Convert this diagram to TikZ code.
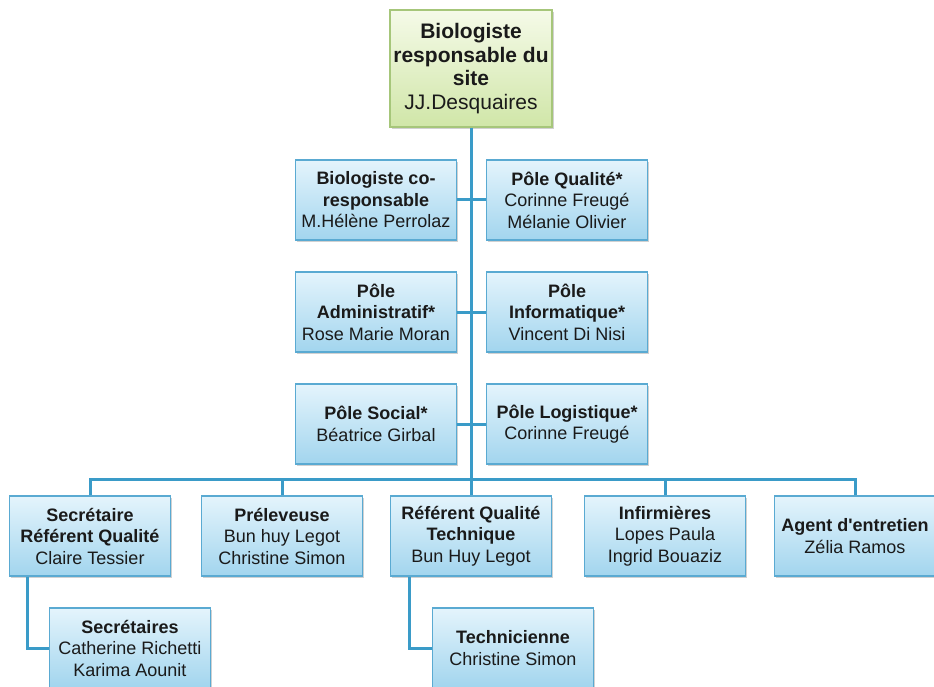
\documentclass[tikz,border=0pt]{standalone}
\usepackage{fontspec}
\setmainfont{Liberation Sans}
\usetikzlibrary{shadows}
\definecolor{lineblue}{HTML}{3A9BC8}
\definecolor{boxborder}{HTML}{5AAAD2}
\definecolor{boxtop}{HTML}{E4F4FC}
\definecolor{boxbot}{HTML}{A2D5EE}
\definecolor{gtop}{HTML}{F5FAE8}
\definecolor{gbot}{HTML}{D0E6A8}
\definecolor{gborder}{HTML}{A6C67A}
\definecolor{txt}{HTML}{1A1A1A}
\begin{document}
\begin{tikzpicture}[x=1pt,y=-1pt,
  unit/.style={draw=boxborder, line width=1.3pt, top color=boxtop, bottom color=boxbot,
    minimum width=161pt, minimum height=80pt, inner sep=0pt, align=center, text=txt,
    font=\fontsize{18}{21.5}\selectfont,
    drop shadow={shadow xshift=1.5pt,shadow yshift=-2pt,fill=black,opacity=0.18}},
  head/.style={unit, draw=gborder, top color=gtop, bottom color=gbot,
    minimum width=162pt, minimum height=117pt, font=\fontsize{21}{23.5}\selectfont},
  link/.style={draw=lineblue, line width=3pt}]
\useasboundingbox (0,0) rectangle (934,687);

\node[head] (bio) at (471,68.5) {\textbf{Biologiste}\\\textbf{responsable du}\\\textbf{site}\\JJ.Desquaires};

\node[unit] (cor) at (376,200) {\textbf{Biologiste co-}\\\textbf{responsable}\\M.Hélène Perrolaz};
\node[unit] (qual) at (567,200) {\textbf{Pôle Qualité*}\\Corinne Freugé\\Mélanie Olivier};
\node[unit] (adm) at (376,312) {\textbf{Pôle}\\\textbf{Administratif*}\\Rose Marie Moran};
\node[unit] (info) at (567,312) {\textbf{Pôle}\\\textbf{Informatique*}\\Vincent Di Nisi};
\node[unit] (soc) at (376,424) {\textbf{Pôle Social*}\\Béatrice Girbal};
\node[unit] (logi) at (567,424) {\textbf{Pôle Logistique*}\\Corinne Freugé};

\coordinate (bar) at (471,479);

\node[unit] (sec) at (90,536) {\textbf{Secrétaire}\\\textbf{Référent Qualité}\\Claire Tessier};
\node[unit] (pre) at (282,536) {\textbf{Préleveuse}\\Bun huy Legot\\Christine Simon};
\node[unit] (ref) at (471,536) {\textbf{Référent Qualité}\\\textbf{Technique}\\Bun Huy Legot};
\node[unit] (infi) at (665,536) {\textbf{Infirmières}\\Lopes Paula\\Ingrid Bouaziz};
\node[unit] (agent) at (855,536) {\textbf{Agent d\textquotesingle entretien}\\Zélia Ramos};

\node[unit] (secs) at (130,648) {\textbf{Secrétaires}\\Catherine Richetti\\Karima Aounit};
\node[unit] (tech) at (513,648) {\textbf{Technicienne}\\Christine Simon};

\draw[link] (bio.south) -- (bar);
\draw[link] (cor.east) -- (qual.west);
\draw[link] (adm.east) -- (info.west);
\draw[link] (soc.east) -- (logi.west);
\draw[link] (sec.north) -- (sec.north |- bar) -- (agent.north |- bar) -- (agent.north);
\draw[link] (pre.north |- bar) -- (pre.north);
\draw[link] (bar) -- (ref.north);
\draw[link] (infi.north |- bar) -- (infi.north);
\draw[link] ([xshift=-63pt]sec.south) |- (secs.west);
\draw[link] ([xshift=-62pt]ref.south) |- (tech.west);
\end{tikzpicture}
\end{document}
